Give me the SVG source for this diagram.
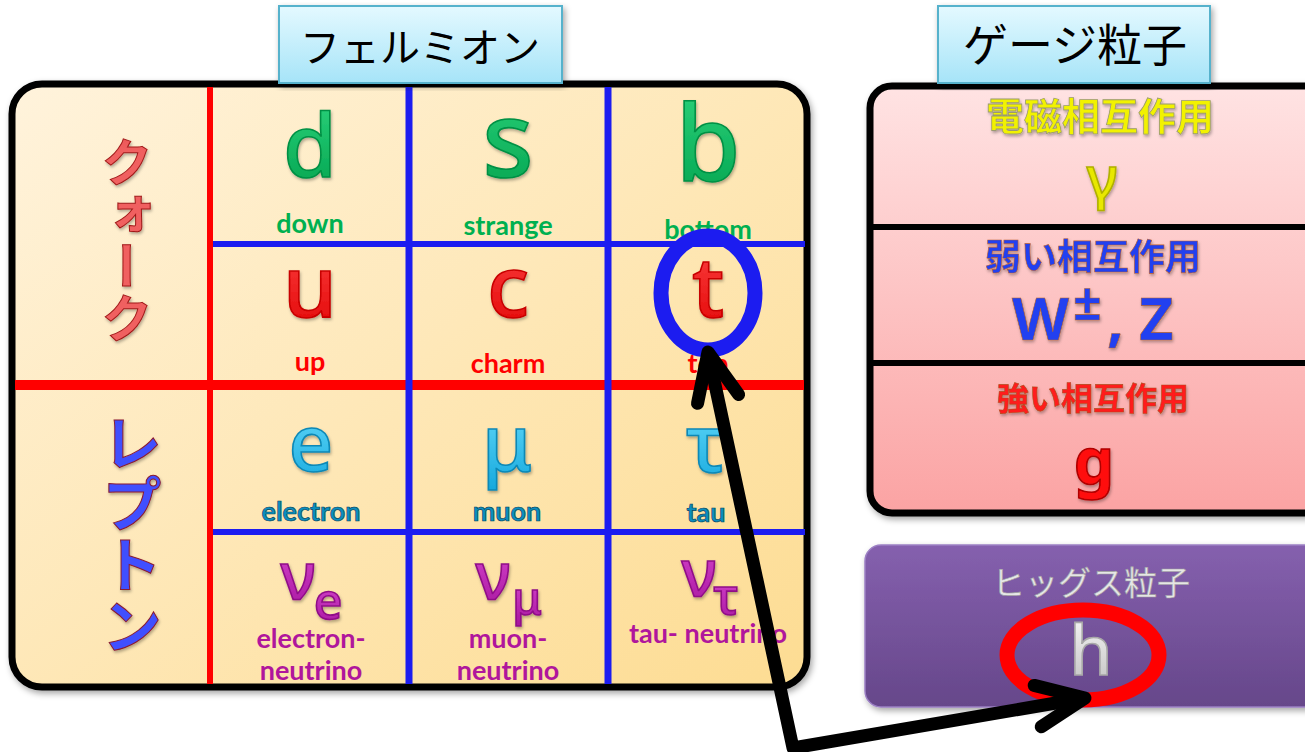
<svg xmlns="http://www.w3.org/2000/svg" width="1305" height="752" viewBox="0 0 1305 752">
<defs>
  <linearGradient id="gCream" x1="0" y1="0" x2="1" y2="1">
    <stop offset="0" stop-color="#FFF3DC"/>
    <stop offset="1" stop-color="#FDDC92"/>
  </linearGradient>
  <linearGradient id="gHead" x1="0" y1="0" x2="0" y2="1">
    <stop offset="0" stop-color="#E4F9FF"/>
    <stop offset="1" stop-color="#A6E4F8"/>
  </linearGradient>
  <linearGradient id="gPink" x1="0" y1="0" x2="0" y2="1">
    <stop offset="0" stop-color="#FFE3E3"/>
    <stop offset="1" stop-color="#FBA3A3"/>
  </linearGradient>
  <linearGradient id="gPurple" x1="0" y1="0" x2="0" y2="1">
    <stop offset="0" stop-color="#8560AE"/>
    <stop offset="1" stop-color="#66478A"/>
  </linearGradient>
  <linearGradient id="gGreen" x1="0" y1="0" x2="0" y2="1">
    <stop offset="0" stop-color="#30D880"/>
    <stop offset="1" stop-color="#00A04C"/>
  </linearGradient>
  <linearGradient id="gRed" x1="0" y1="0" x2="0" y2="1">
    <stop offset="0" stop-color="#FF4A4A"/>
    <stop offset="1" stop-color="#E00000"/>
  </linearGradient>
  <linearGradient id="gCyan" x1="0" y1="0" x2="0" y2="1">
    <stop offset="0" stop-color="#70E2FF"/>
    <stop offset="1" stop-color="#12A6DC"/>
  </linearGradient>
  <linearGradient id="gMag" x1="0" y1="0" x2="0" y2="1">
    <stop offset="0" stop-color="#E050D6"/>
    <stop offset="1" stop-color="#A4129C"/>
  </linearGradient>
  <linearGradient id="gKRed" x1="0" y1="0" x2="1" y2="0">
    <stop offset="0" stop-color="#F06060"/>
    <stop offset="1" stop-color="#D83030"/>
  </linearGradient>
  <linearGradient id="gKBlue" x1="0" y1="0" x2="1" y2="0">
    <stop offset="0" stop-color="#4050FF"/>
    <stop offset="1" stop-color="#1C28D8"/>
  </linearGradient>
  <linearGradient id="gSilver" x1="0" y1="0" x2="0" y2="1">
    <stop offset="0" stop-color="#FFFFFF"/>
    <stop offset="1" stop-color="#BDBDBD"/>
  </linearGradient>
  <filter id="shadow" x="-5%" y="-5%" width="112%" height="115%">
    <feDropShadow dx="2" dy="3" stdDeviation="3" flood-color="#000" flood-opacity="0.35"/>
  </filter>
  <filter id="tshadow" x="-20%" y="-20%" width="140%" height="140%">
    <feDropShadow dx="1" dy="2" stdDeviation="1.5" flood-color="#000" flood-opacity="0.3"/>
  </filter>
  <marker id="openArrow" markerUnits="userSpaceOnUse" orient="auto-start-reverse" refX="0" refY="0" markerWidth="120" markerHeight="120" viewBox="-60 -60 120 120" overflow="visible">
    <path d="M-48,-21 L0,0 L-48,21" fill="none" stroke="#000" stroke-width="13" stroke-linecap="round" stroke-linejoin="round"/>
  </marker>
  <style>
    .head { fill: url(#gHead); stroke: #56B2CC; stroke-width: 2; }
    .headtxt { font-family: "Noto Sans CJK JP", sans-serif; fill: #000; text-anchor: middle; }
    .big { font-family: "Noto Sans", "Open Sans", sans-serif; font-weight: 500; text-anchor: middle; stroke-width: 1.6; }
    .lbl { font-family: "Lato", "Liberation Sans", sans-serif; font-weight: 700; font-size: 27px; text-anchor: middle; }
    .grn { fill: url(#gGreen); stroke: #009044; }
    .red { fill: url(#gRed); stroke: #C80000; }
    .cyn { fill: url(#gCyan); stroke: #0C88B6; }
    .mag { fill: url(#gMag); stroke: #900C88; }
    .lg { fill: #00B050; }
    .lr { fill: #FF0000; }
    .lc { fill: #0B8EBE; stroke: #064460; stroke-width: 0.7; }
    .lm { fill: #B0169C; }
    .vert { font-family: "Noto Sans CJK JP", sans-serif; font-weight: 700; writing-mode: vertical-rl; }
    .gj { font-family: "Noto Sans CJK JP", sans-serif; font-weight: 700; text-anchor: middle; }
    .rline { stroke: #FF0000; }
    .bline { stroke: #1C1CF0; }
  </style>
</defs>

<rect width="1305" height="752" fill="#FFFFFF"/>

<!-- Fermion table -->
<g id="fermion-table">
  <rect x="12" y="84" width="795" height="603" rx="30" fill="url(#gCream)" stroke="#000" stroke-width="7" filter="url(#shadow)"/>
  <line class="rline" x1="15" y1="385" x2="804" y2="385" stroke-width="10"/>
  <line class="bline" x1="409" y1="87" x2="409" y2="684" stroke-width="7"/>
  <line class="bline" x1="608" y1="87" x2="608" y2="684" stroke-width="7"/>
  <line class="bline" x1="213" y1="244" x2="805" y2="244" stroke-width="6"/>
  <line class="bline" x1="213" y1="532" x2="805" y2="532" stroke-width="6"/>
  <line class="rline" x1="210" y1="87" x2="210" y2="684" stroke-width="6"/>
</g>

<g id="header-fermion">
  <rect class="head" x="279" y="6" width="283" height="77" filter="url(#shadow)"/>
  <text class="headtxt" x="420" y="62" font-size="40">フェルミオン</text>
</g>

<g id="label-quark">
  <text class="vert" x="127" y="136" font-size="52" fill="url(#gKRed)" stroke="#A01818" stroke-width="1" filter="url(#tshadow)">クォーク</text>
</g>
<g id="label-lepton">
  <text class="vert" x="132" y="412" font-size="61" fill="url(#gKBlue)" stroke="#8A1A30" stroke-width="1" filter="url(#tshadow)">レプトン</text>
</g>

<g id="quark-d">
  <text class="big grn" x="310" y="177" font-size="87" filter="url(#tshadow)">d</text>
  <text class="lbl lg" x="310" y="233">down</text>
</g>
<g id="quark-s">
  <text class="big grn" x="508" y="177" font-size="106" filter="url(#tshadow)">s</text>
  <text class="lbl lg" x="508" y="235">strange</text>
</g>
<g id="quark-b">
  <text class="big grn" x="708" y="181" font-size="105" filter="url(#tshadow)">b</text>
  <text class="lbl lg" x="708" y="239">bottom</text>
</g>
<g id="quark-u">
  <text class="big red" x="310" y="317" font-size="86" filter="url(#tshadow)">u</text>
  <text class="lbl lr" x="310" y="371">up</text>
</g>
<g id="quark-c">
  <text class="big red" x="508" y="317" font-size="86" filter="url(#tshadow)">c</text>
  <text class="lbl lr" x="508" y="373">charm</text>
</g>
<g id="quark-t">
  <text class="big red" x="708" y="317" font-size="84" filter="url(#tshadow)">t</text>
  <text class="lbl lr" x="708" y="373">top</text>
</g>

<g id="lepton-e">
  <text class="big cyn" x="311" y="471" font-size="78" filter="url(#tshadow)">e</text>
  <text class="lbl lc" x="311" y="521">electron</text>
</g>
<g id="lepton-mu">
  <text class="big cyn" x="507" y="471" font-size="78" filter="url(#tshadow)">μ</text>
  <text class="lbl lc" x="507" y="521">muon</text>
</g>
<g id="lepton-tau">
  <text class="big cyn" x="706" y="472" font-size="80" filter="url(#tshadow)">τ</text>
  <text class="lbl lc" x="706" y="522">tau</text>
</g>
<g id="neutrino-e">
  <text class="big mag" x="298" y="599" font-size="66" filter="url(#tshadow)">ν</text>
  <text class="big mag" x="328" y="619" font-size="50" filter="url(#tshadow)">e</text>
  <text class="lbl lm" x="311" y="648">electron-</text>
  <text class="lbl lm" x="311" y="680">neutrino</text>
</g>
<g id="neutrino-mu">
  <text class="big mag" x="493" y="599" font-size="66" filter="url(#tshadow)">ν</text>
  <text class="big mag" x="527" y="615" font-size="46" filter="url(#tshadow)">μ</text>
  <text class="lbl lm" x="508" y="648">muon-</text>
  <text class="lbl lm" x="508" y="680">neutrino</text>
</g>
<g id="neutrino-tau">
  <text class="big mag" x="699" y="596" font-size="66" filter="url(#tshadow)">ν</text>
  <text class="big mag" x="726" y="614" font-size="50" filter="url(#tshadow)">τ</text>
  <text class="lbl lm" x="708" y="643">tau- neutrino</text>
</g>

<!-- Gauge bosons -->
<g id="gauge-box">
  <rect x="870" y="86" width="460" height="427" rx="22" fill="url(#gPink)" stroke="#000" stroke-width="7" filter="url(#shadow)"/>
  <line x1="870" y1="227" x2="1305" y2="227" stroke="#000" stroke-width="6"/>
  <line x1="870" y1="363" x2="1305" y2="363" stroke="#000" stroke-width="6"/>
</g>
<g id="header-gauge">
  <rect class="head" x="938" y="6" width="272" height="77" filter="url(#shadow)"/>
  <text class="headtxt" x="1075" y="62" font-size="45">ゲージ粒子</text>
</g>
<g id="gauge-em">
  <text class="gj" x="1100" y="130" font-size="38" fill="#F2F200" stroke="#9A9A70" stroke-width="0.8" filter="url(#tshadow)">電磁相互作用</text>
  <text class="big" x="1102" y="198" font-size="58" fill="#E8E800" stroke="#B0B000" filter="url(#tshadow)">γ</text>
</g>
<g id="gauge-weak">
  <text class="gj" x="1093" y="270" font-size="36" fill="#2040F0" stroke="#C06030" stroke-width="0.6" filter="url(#tshadow)">弱い相互作用</text>
  <text font-family="Noto Sans, Open Sans, sans-serif" font-weight="700" font-size="59" fill="#2040F0" stroke="#B06030" stroke-width="0.6" filter="url(#tshadow)"><tspan x="1012" y="340">W</tspan><tspan x="1073" y="320" font-size="50">±</tspan><tspan x="1107" y="340">, Z</tspan></text>
</g>
<g id="gauge-strong">
  <text class="gj" x="1093" y="410" font-size="32" fill="#FF1A1A" stroke="#B05020" stroke-width="0.6" filter="url(#tshadow)">強い相互作用</text>
  <text class="big" x="1094" y="484" font-size="64" style="font-weight:700" fill="#FF1010" stroke="#B00000" filter="url(#tshadow)">g</text>
</g>

<!-- Higgs -->
<g id="higgs">
  <rect x="865" y="545" width="460" height="162" rx="16" fill="url(#gPurple)" stroke="#9C80C4" stroke-width="1.5" filter="url(#shadow)"/>
  <text class="gj" x="1091" y="595" font-size="33" style="font-weight:400" fill="#E6E6E6" stroke="#A0A0A0" stroke-width="0.6">ヒッグス粒子</text>
  <text class="big" x="1091" y="675" font-size="69" fill="url(#gSilver)" stroke="#A8A8A8">h</text>
</g>

<!-- Highlights and connector -->
<g id="highlights">
  <ellipse cx="708" cy="293" rx="47" ry="57" fill="none" stroke="#1C1CF0" stroke-width="15"/>
  <ellipse cx="1083" cy="655" rx="76" ry="45" fill="none" stroke="#FF0000" stroke-width="15"/>
</g>
<g id="connectors">
  <path d="M708,352 L793,748 L1085,698" fill="none" stroke="#000" stroke-width="13" stroke-linejoin="round" marker-start="url(#openArrow)" marker-end="url(#openArrow)"/>
</g>
</svg>
